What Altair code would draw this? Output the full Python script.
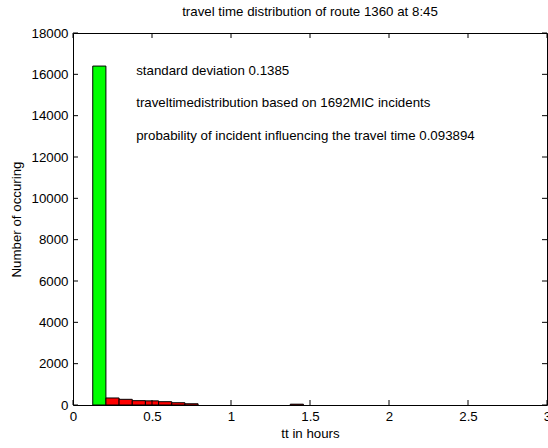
import altair as alt
import pandas as pd

# histogram bins (hours) and counts
bin_start = [0.125, 0.2083, 0.2917, 0.375, 0.4583, 0.5417, 0.625, 0.7083, 1.375]
bin_end = [0.2083, 0.2917, 0.375, 0.4583, 0.5417, 0.625, 0.7083, 0.7917, 1.4583]
counts = [16400, 340, 275, 210, 200, 160, 110, 60, 40]
groups = ["normal", "incident", "incident", "incident", "incident", "incident", "incident", "incident", "incident"]

x_ticks = [0, 0.5, 1, 1.5, 2, 2.5, 3]
y_ticks = [0, 2000, 4000, 6000, 8000, 10000, 12000, 14000, 16000, 18000]

notes = [
    "standard deviation 0.1385",
    "traveltimedistribution based on 1692MIC incidents",
    "probability of incident influencing the travel time 0.093894",
]
note_x = [0.4, 0.4, 0.4]
note_y = [16150, 14600, 13000]

W, H = 474, 372
FONT = "Liberation Sans"
FS = 13.3

bars_df = pd.DataFrame({"x0": bin_start, "x1": bin_end, "n": counts, "g": groups})
notes_df = pd.DataFrame({"t": notes, "x": note_x, "y": note_y})
xt_df = pd.DataFrame({"v": x_ticks})
yt_df = pd.DataFrame({"v": y_ticks})

xscale = alt.Scale(domain=[0, 3], nice=False, zero=False)
yscale = alt.Scale(domain=[0, 18000], nice=False)

bars = alt.Chart(bars_df).mark_rect(stroke="black", strokeWidth=1).encode(
    x=alt.X("x0:Q", scale=xscale,
            axis=alt.Axis(values=x_ticks, format="~g", title="tt in hours", ticks=False, domain=False,
                          grid=False, labelPadding=4, titlePadding=4, labelFlush=False,
                          labelFont=FONT, titleFont=FONT, labelFontSize=FS, titleFontSize=FS,
                          titleFontWeight="normal", labelColor="black", titleColor="black")),
    x2="x1:Q",
    y=alt.Y("n:Q", scale=yscale,
            axis=alt.Axis(values=y_ticks, format="d", title="Number of occuring", ticks=False, domain=False,
                          grid=False, labelPadding=5, titlePadding=8, labelFlush=False,
                          labelFont=FONT, titleFont=FONT, labelFontSize=FS, titleFontSize=FS,
                          titleFontWeight="normal", labelColor="black", titleColor="black")),
    y2=alt.datum(0),
    color=alt.Color("g:N", scale=alt.Scale(domain=["normal", "incident"], range=["#00ff00", "#ff0000"]),
                    legend=None),
)

text = alt.Chart(notes_df).mark_text(align="left", baseline="middle", font=FONT, fontSize=FS,
                                     color="black").encode(
    x=alt.X("x:Q", scale=xscale), y=alt.Y("y:Q", scale=yscale), text="t:N")

tick_len = 5
bt = alt.Chart(xt_df).mark_rule(color="black").encode(
    x=alt.X("v:Q", scale=xscale), y=alt.value(H), y2=alt.value(H - tick_len))
tt = alt.Chart(xt_df).mark_rule(color="black").encode(
    x=alt.X("v:Q", scale=xscale), y=alt.value(0), y2=alt.value(tick_len))
lt = alt.Chart(yt_df).mark_rule(color="black").encode(
    y=alt.Y("v:Q", scale=yscale), x=alt.value(0), x2=alt.value(tick_len))
rt = alt.Chart(yt_df).mark_rule(color="black").encode(
    y=alt.Y("v:Q", scale=yscale), x=alt.value(W), x2=alt.value(W - tick_len))

chart = alt.layer(bars, text, bt, tt, lt, rt).properties(
    width=W, height=H,
    title=alt.TitleParams("travel time distribution of route 1360 at 8:45", font=FONT, fontSize=FS,
                          fontWeight="normal", color="black", anchor="middle", offset=8),
    autosize=alt.AutoSizeParams(type="none"),
    padding={"left": 73, "top": 33, "right": 1, "bottom": 43},
    background="white",
).configure_view(stroke="black", strokeWidth=1)

chart.save("out.html", embed_options={"renderer": "svg", "actions": False})
